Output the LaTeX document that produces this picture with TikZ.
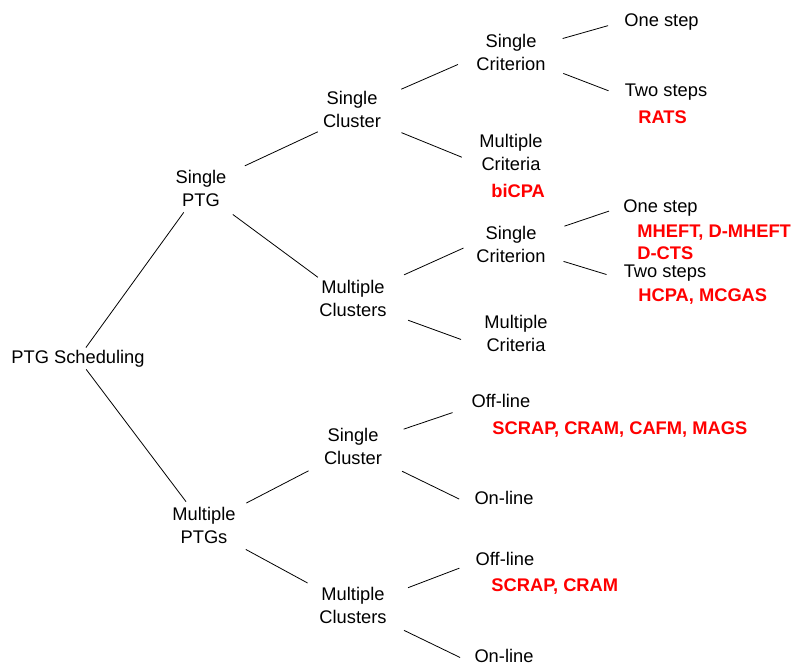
\documentclass[tikz,border=0pt]{standalone}
\usepackage{fontspec}
\setmainfont{Liberation Sans}
\usepackage{xcolor}
\usetikzlibrary{calc}

\begin{document}
\begin{tikzpicture}[x=1pt, y=-1pt, line width=0.8pt,
		cat/.style={align=center, inner xsep=8pt, inner ysep=2pt, font=\fontsize{18.3}{23}\selectfont},
		leaf/.style={inner xsep=14pt, inner ysep=2pt, text height=13pt, text depth=3pt, font=\fontsize{18.3}{23}\selectfont},
		algo/.style={anchor=west, inner sep=0pt, align=left, text=red, font=\fontsize{18.3}{22}\selectfont\bfseries},
		gap/.style 2 args={shorten <=#1, shorten >=#2}]
		
		%page size
		\useasboundingbox (0,0) rectangle (792,663);
		
		\begin{scope}[yshift=-1.5pt]
		%root and first split
		\node [cat] (sched) at (78,357) {PTG Scheduling};
		\node [cat] (sptg) at (201,187) {Single\\PTG};
		\node [cat] (mptg) at (204,524) {Multiple\\PTGs};
		
		%platforms
		\node [cat] (sc1) at (352,108) {Single\\Cluster};
		\node [cat] (mc1) at (353,297) {Multiple\\Clusters};
		\node [cat] (sc2) at (353,445) {Single\\Cluster};
		\node [cat] (mc2) at (353,604) {Multiple\\Clusters};
		
		%criteria
		\node [cat] (scr1) at (511,51) {Single\\Criterion};
		\node [cat] (mcr1) at (511,151) {Multiple\\Criteria};
		\node [cat] (scr2) at (511,243) {Single\\Criterion};
		\node [cat] (mcr2) at (516,332) {Multiple\\Criteria};
		
		%leaves
		\node [leaf] (one1) at (661.5,20) {One step};
		\node [leaf] (two1) at (666,90) {Two steps};
		\node [leaf] (one2) at (660.5,206) {One step};
		\node [leaf] (two2) at (665,271) {Two steps};
		\node [leaf] (off1) at (501,401) {Off-line};
		\node [leaf] (on1) at (504,498) {On-line};
		\node [leaf] (off2) at (505,559) {Off-line};
		\node [leaf] (on2) at (504,656) {On-line};
		
		%algorithms
		\node [algo] (rats) at (638,116) {RATS};
		\node [algo] (bicpa) at (491,189) {biCPA};
		\node [algo] (mheft) at (637,241) {MHEFT, D-MHEFT\\D-CTS};
		\node [algo] (hcpa) at (638,295) {HCPA, MCGAS};
		\node [algo] (scrap1) at (492,428) {SCRAP, CRAM, CAFM, MAGS};
		\node [algo] (scrap2) at (491,585) {SCRAP, CRAM};
		
		%links
		\draw [gap={0pt}{4pt}] (sched) -- (sptg);
		\draw [gap={0pt}{4pt}] (sched) -- (mptg);
		
		\draw [gap={11pt}{4pt}] (sptg.28) -- (sc1.214);
		\draw [gap={9pt}{1pt}] (sptg.-40) -- (mc1.149);
		\draw [gap={4pt}{8pt}] (mptg.28) -- (sc2.south west);
		\draw [gap={7pt}{4pt}] (mptg.-30) -- (mc2.north west);
		
		\draw [gap={13pt}{11pt}] (sc1.22) -- (scr1.190);
		\draw [gap={13pt}{10pt}] (sc1.-26) -- (mcr1.192);
		\draw [gap={10pt}{5pt}] (mc1.25) -- (scr2.182);
		\draw [gap={14pt}{16pt}] (mc1.-22) -- (mcr2.196);
		
		\draw [gap={9pt}{2pt}] (scr1.15) -- (one1.184);
		\draw [gap={10pt}{2pt}] (scr1.-22) -- (two1.west);
		\draw [gap={11pt}{0pt}] (scr2.19) -- (one2.184);
		\draw [gap={10pt}{3pt}] (scr2.-18) -- (two2.183);
		
		\draw [gap={14pt}{5pt}] (sc2.19) -- (off1.191);
		\draw [gap={13pt}{1pt}] (sc2.-27) -- (on1.west);
		\draw [gap={14pt}{2pt}] (mc2.17) -- (off2.189);
		\draw [gap={10pt}{0pt}] (mc2.-26) -- (on2.west);
		\end{scope}
	\end{tikzpicture}
\end{document}
